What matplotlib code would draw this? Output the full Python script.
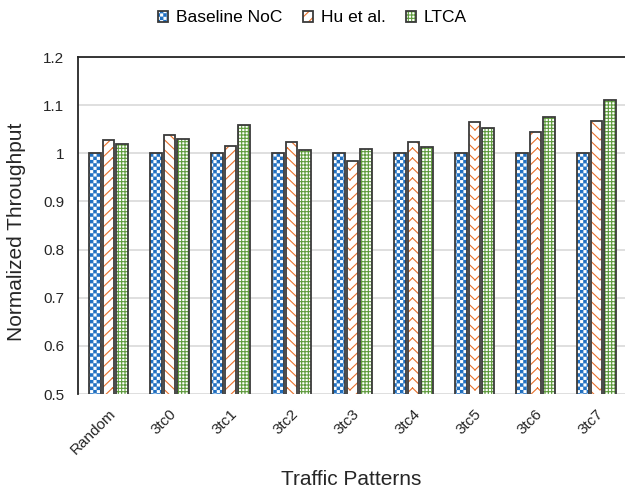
import numpy as np
import matplotlib
matplotlib.use("Agg")
import matplotlib.pyplot as plt
import matplotlib.hatch as mhatch
from matplotlib.path import Path

# ---------------- data ----------------
categories = ["Random", "3tc0", "3tc1", "3tc2", "3tc3", "3tc4", "3tc5", "3tc6", "3tc7"]
series_names = ["Baseline NoC", "Hu et al.", "LTCA"]
baseline = [1.0, 1.0, 1.0, 1.0, 1.0, 1.0, 1.0, 1.0, 1.0]
hu = [1.027, 1.038, 1.015, 1.024, 0.983, 1.024, 1.065, 1.045, 1.067]
ltca = [1.020, 1.030, 1.059, 1.007, 1.009, 1.014, 1.052, 1.076, 1.110]
yticks = [0.5, 0.6, 0.7, 0.8, 0.9, 1.0, 1.1, 1.2]
ytick_labels = ["0.5", "0.6", "0.7", "0.8", "0.9", "1", "1.1", "1.2"]


# ---------------- custom hatch patterns ----------------
HATCH_LW_PT = 0.8
plt.rcParams['hatch.linewidth'] = HATCH_LW_PT


class CheckerHatch(mhatch.HatchPatternBase):
    """Checkerboard of filled squares, triggered by '.'."""
    def __init__(self, hatch, density):
        self.on = hatch.count('.') > 0
        self.n = 30
        self.filled = True
        self.num_vertices = (self.n * self.n // 2) * 5 if self.on else 0

    def set_vertices_and_codes(self, vertices, codes):
        n = self.n
        cell = 1.0 / n
        inset = 0.0048
        k = 0
        for i in range(n):
            for j in range(n):
                if (i + j) % 2:
                    continue
                x0 = i * cell + inset
                y0 = j * cell + inset
                x1 = (i + 1) * cell - inset
                y1 = (j + 1) * cell - inset
                vertices[k:k + 5] = [(x0, y0), (x1, y0), (x1, y1), (x0, y1), (x0, y0)]
                codes[k] = Path.MOVETO
                codes[k + 1:k + 4] = Path.LINETO
                codes[k + 4] = Path.CLOSEPOLY
                k += 5


class ZigzagHatch(mhatch.HatchPatternBase):
    """Horizontal zig-zag lines built from separate segments, triggered by 'o'."""
    def __init__(self, hatch, density):
        self.on = hatch.count('o') > 0
        self.periods = 4
        self.rows = list(range(-2, 10))
        self.nseg = self.periods * 2
        self.filled = False
        self.num_vertices = len(self.rows) * self.nseg * 2 if self.on else 0

    def set_vertices_and_codes(self, vertices, codes):
        amp = 0.12
        k = 0
        xs = np.linspace(0, 1, self.nseg + 1)
        for r in self.rows:
            y0 = r / 10.0
            for m in range(self.nseg):
                ya = y0 + (amp if m % 2 else 0.0)
                yb = y0 + (0.0 if m % 2 else amp)
                vertices[k] = (xs[m], ya)
                vertices[k + 1] = (xs[m + 1], yb)
                codes[k] = Path.MOVETO
                codes[k + 1] = Path.LINETO
                k += 2


mhatch._hatch_types = [t for t in mhatch._hatch_types
                       if t not in (mhatch.SmallFilledCircles, mhatch.SmallCircles)]
mhatch._hatch_types += [CheckerHatch, ZigzagHatch]

# ---------------- figure ----------------
plt.rcParams['font.family'] = ['Liberation Sans', 'DejaVu Sans']

fig = plt.figure(figsize=(6.25, 4.9), dpi=100)
ax = fig.add_axes([78 / 625, 96 / 490, 549 / 625, 337 / 490])

x = np.arange(len(categories))
width = 0.195
step = 0.225
series = [baseline, hu, ltca]
hatch_colors = ['#1F6FC1', '#E7702A', '#5E9B3C']
hatches = ['.', 'o', '+++++']
outline = '#3A3A3A'

handles = []
for i, (vals, hc, h) in enumerate(zip(series, hatch_colors, hatches)):
    pos = x + (i - 1) * step
    b1 = ax.bar(pos, vals, width, bottom=0, facecolor='white', edgecolor=hc,
                linewidth=0, hatch=h, zorder=3)
    b2 = ax.bar(pos, vals, width, bottom=0, facecolor='none', edgecolor=outline,
                linewidth=1.3, zorder=4)
    handles.append((b1[0], b2[0]))

ax.set_ylim(0.5, 1.2)
ax.set_xlim(-0.5, len(categories) - 0.5)
ax.set_yticks(yticks)
ax.set_yticklabels(ytick_labels)
ax.set_xticks(x)
ax.set_xticklabels(categories, rotation=45, ha='right', rotation_mode='anchor')
ax.tick_params(axis='y', length=0, pad=10, labelsize=11, labelcolor='#262626')
ax.tick_params(axis='x', length=0, pad=9, labelsize=11, labelcolor='#262626')

ax.grid(axis='y', color='#D9D9D9', linewidth=1.2, zorder=0)
ax.set_axisbelow(True)
for s in ['right', 'bottom']:
    ax.spines[s].set_visible(False)
ax.spines['left'].set_color('#262626')
ax.spines['left'].set_linewidth(1.3)
ax.spines['top'].set_color('#262626')
ax.spines['top'].set_linewidth(1.3)

fig.text(17 / 625, 1 - 232 / 490, "Normalized Throughput", rotation=90,
         ha='center', va='center', fontsize=15, color='#262626')
fig.text(351 / 625, 5 / 490, "Traffic Patterns", ha='center', va='baseline',
         fontsize=15, color='#262626')

fig.legend(handles, series_names, loc='center', bbox_to_anchor=(0.5, 1 - 18 / 490),
           ncol=3, frameon=False, fontsize=12.5, handlelength=0.6, handleheight=0.6,
           handletextpad=0.45, columnspacing=1.15, borderaxespad=0)

fig.savefig("out.png", dpi=100)
